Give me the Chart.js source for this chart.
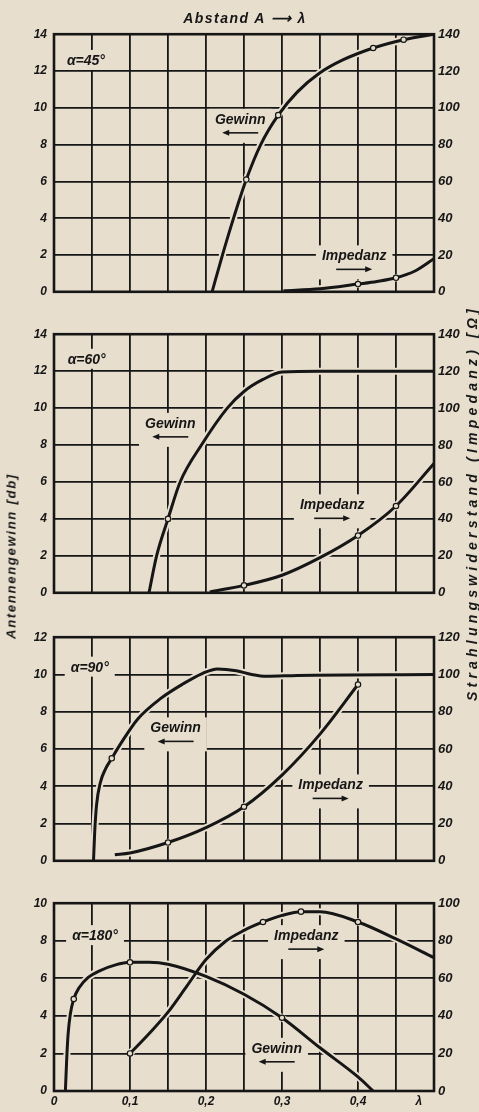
<!DOCTYPE html>
<html><head><meta charset="utf-8">
<script src="https://cdn.jsdelivr.net/npm/chart.js@4.4.1/dist/chart.umd.min.js"></script>
<style>
html,body{margin:0;padding:0;background:#e7dece;}
#wrap{position:relative;width:479px;height:1112px;overflow:hidden;background:#e7dece;}
canvas{position:absolute;left:0;}
.t{position:absolute;font-family:"Liberation Sans",Arial,sans-serif;font-weight:bold;font-style:italic;color:#161616;white-space:nowrap;line-height:1;}
.rot{transform:translate(-50%,-50%) rotate(-90deg);}
.ctr{transform:translate(-50%,-50%);}
</style></head><body>
<div id="wrap">
<canvas id="c1"></canvas><canvas id="c2"></canvas><canvas id="c3"></canvas><canvas id="c4"></canvas>
<div id="tTop" class="t ctr" style="left:245px;top:18px;font-size:14px;">Abstand A ⟶ λ</div>
<div id="tLeft" class="t rot" style="left:11px;top:556px;font-size:13px;">Antennengewinn [db]</div>
<div id="tRight" class="t rot" style="left:472px;top:503px;font-size:14px;">Strahlungswiderstand (Impedanz) [Ω]</div>
</div>
<script>
// ---------- data ----------
// x: Abstand A in λ ; Gewinn in dB (left axis) ; Impedanz in Ω (right axis)
const xTickVals = [0, 0.05, 0.1, 0.15, 0.2, 0.25, 0.3, 0.35, 0.4, 0.45, 0.48, 0.5];
const xTickText = ['0', '', '0,1', '', '0,2', '', '0,3', '', '0,4', '', 'λ', ''];

// α = 45°
const g45x = [0.208, 0.222, 0.237, 0.253, 0.272, 0.295, 0.32, 0.35, 0.38, 0.42, 0.46, 0.5];
const g45y = [0, 2.05, 4.1, 6.1, 8, 9.6, 10.85, 11.9, 12.6, 13.25, 13.7, 14];
const i45x = [0.302, 0.35, 0.4, 0.425, 0.45, 0.475, 0.5];
const i45y = [0.6, 1.6, 4.2, 5.6, 7.6, 11.3, 18];
const g45marks = [0.253, 0.295, 0.42, 0.46];
const i45marks = [0.4, 0.45];

// α = 60°
const g60x = [0.125, 0.135, 0.15, 0.166, 0.194, 0.228, 0.25, 0.275, 0.3, 0.35, 0.5];
const g60y = [0, 2, 4, 6, 8, 10, 10.9, 11.55, 11.95, 12, 12];
const i60x = [0.205, 0.25, 0.3, 0.35, 0.4, 0.45, 0.5];
const i60y = [0.5, 4, 9.5, 19, 31, 47, 70];
const g60marks = [0.15];
const i60marks = [0.25, 0.4, 0.45];

// α = 90°
const g90x = [0.052, 0.0535, 0.056, 0.061, 0.068, 0.076, 0.088, 0.11, 0.14, 0.17, 0.195, 0.215, 0.24, 0.26, 0.28, 0.32, 0.5];
const g90y = [0, 1.5, 3, 4.2, 4.95, 5.5, 6.3, 7.6, 8.7, 9.5, 10.05, 10.3, 10.2, 10, 9.9, 9.95, 10];
const i90x = [0.08, 0.1, 0.15, 0.2, 0.25, 0.3, 0.35, 0.4];
const i90y = [3.3, 4.2, 9.8, 17.8, 29, 46, 68, 94.6];
const g90marks = [0.076];
const i90marks = [0.15, 0.25, 0.4];

// α = 180°
const g180x = [0.015, 0.0165, 0.0185, 0.0215, 0.026, 0.033, 0.045, 0.06, 0.08, 0.1, 0.125, 0.15, 0.2, 0.25, 0.3, 0.35, 0.4, 0.42];
const g180y = [0, 1.5, 3, 4.1, 4.9, 5.5, 6.05, 6.4, 6.7, 6.85, 6.85, 6.75, 6.1, 5.15, 3.9, 2.3, 0.75, 0];
const i180x = [0.1, 0.125, 0.15, 0.175, 0.2, 0.225, 0.25, 0.275, 0.3, 0.325, 0.35, 0.4, 0.45, 0.5];
const i180y = [20, 30.5, 42, 56, 70, 79.5, 85.5, 90, 93.5, 95.5, 95.5, 90, 81, 71];
const g180marks = [0.026, 0.1, 0.3];
const i180marks = [0.1, 0.275, 0.325, 0.4];

// ---------- style / layout ----------
const INK = '#161616', PAPER = '#e7dece';
const PLOT_L = 54, PLOT_R = 434, PAD = 12, W = 479;
const FONT = '"Liberation Sans", Arial, sans-serif';
const LAMBDA_POS = 0.48;

const panels = [
  {id:'c1', top:32, bottom:294, yMax:14, rMax:140, gx:g45x, gy:g45y, ix:i45x, iy:i45y, gm:g45marks, im:i45marks,
   labels:[{text:'α=45°', x:0.042, y:12.6, arrow:0},
           {text:'Gewinn', x:0.245, y:9.4, arrow:-1},
           {text:'Impedanz', x:0.395, y:1.98, arrow:1}]},
  {id:'c2', top:332, bottom:595, yMax:14, rMax:140, gx:g60x, gy:g60y, ix:i60x, iy:i60y, gm:g60marks, im:i60marks,
   labels:[{text:'α=60°', x:0.043, y:12.67, arrow:0},
           {text:'Gewinn', x:0.153, y:9.2, arrow:-1},
           {text:'Impedanz', x:0.366, y:4.79, arrow:1}]},
  {id:'c3', top:635, bottom:863, yMax:12, rMax:120, gx:g90x, gy:g90y, ix:i90x, iy:i90y, gm:g90marks, im:i90marks,
   labels:[{text:'α=90°', x:0.047, y:10.42, arrow:0},
           {text:'Gewinn', x:0.16, y:7.16, arrow:-1},
           {text:'Impedanz', x:0.364, y:4.1, arrow:1}]},
  {id:'c4', top:901, bottom:1091, yMax:10, rMax:100, gx:g180x, gy:g180y, ix:i180x, iy:i180y, gm:g180marks, im:i180marks, last:true,
   labels:[{text:'α=180°', x:0.054, y:8.3, arrow:0},
           {text:'Impedanz', x:0.332, y:8.3, arrow:1},
           {text:'Gewinn', x:0.293, y:2.3, arrow:-1}]}
];

const pts = (xs, ys) => xs.map((x, i) => ({x, y: ys[i]}));

const annot = {
  id: 'annot',
  beforeDatasetsDraw(chart) {
    const p = chart.options.plugins.annot.panel;
    const ctx = chart.ctx, xs = chart.scales.x, ys = chart.scales.y;
    ctx.save();
    ctx.font = 'italic bold 14px ' + FONT;
    ctx.textAlign = 'center'; ctx.textBaseline = 'middle';
    p.labels.forEach(l => {
      const cx = xs.getPixelForValue(l.x), cy = ys.getPixelForValue(l.y);
      const tw = ctx.measureText(l.text).width;
      ctx.fillStyle = PAPER;
      const h = l.arrow ? 34 : 20;
      ctx.fillRect(cx - tw/2 - 6, cy - 10, tw + 12, h);
      ctx.fillStyle = INK;
      ctx.fillText(l.text, cx, cy + 1);
      if (l.arrow) {
        const ay = cy + 14, half = 18, d = l.arrow;
        ctx.strokeStyle = INK; ctx.lineWidth = 1.6;
        ctx.beginPath(); ctx.moveTo(cx - half*d, ay); ctx.lineTo(cx + (half-5)*d, ay); ctx.stroke();
        ctx.beginPath();
        ctx.moveTo(cx + half*d, ay); ctx.lineTo(cx + (half-7)*d, ay - 3); ctx.lineTo(cx + (half-7)*d, ay + 3);
        ctx.closePath(); ctx.fill();
      }
    });
    ctx.restore();
  },
  afterDatasetsDraw(chart) {
    const a = chart.chartArea, ctx = chart.ctx;
    ctx.save();
    ctx.strokeStyle = INK; ctx.lineWidth = 2.6;
    ctx.strokeRect(a.left, a.top, a.right - a.left, a.bottom - a.top);
    ctx.restore();
  }
};

function series(xs, ys, marks, axis, order) {
  const data = pts(xs, ys);
  return [
    {data, yAxisID: axis, borderColor: INK, borderWidth: 3, cubicInterpolationMode: 'monotone',
     pointRadius: c => marks.includes(c.raw.x) ? 2.7 : 0, pointBackgroundColor: PAPER,
     pointBorderColor: INK, pointBorderWidth: 1.2, order: order},
    {data, yAxisID: axis, borderColor: PAPER, borderWidth: 7, cubicInterpolationMode: 'monotone',
     pointRadius: 0, order: order + 10}
  ];
}

panels.forEach(p => {
  const cv = document.getElementById(p.id);
  const extra = p.last ? 22 : PAD;
  const H = p.bottom - p.top + PAD + extra;
  cv.width = W; cv.height = H;
  cv.style.top = (p.top - PAD) + 'px';
  cv.style.width = W + 'px'; cv.style.height = H + 'px';
  const tickFont = {family: FONT, size: 12, style: 'italic', weight: 'bold'};
  const rFont = {family: FONT, size: 13, style: 'italic', weight: 'bold'};
  new Chart(cv, {
    type: 'line',
    data: {datasets: [
      ...series(p.gx, p.gy, p.gm, 'y', 1),
      ...series(p.ix, p.iy, p.im, 'y2', 2)
    ]},
    options: {
      responsive: false, animation: false, maintainAspectRatio: false,
      layout: {padding: {top: PAD, left: 0, right: 0, bottom: 0}},
      plugins: {legend: {display: false}, tooltip: {enabled: false}, annot: {panel: p}},
      scales: {
        x: {type: 'linear', min: 0, max: 0.5,
            afterBuildTicks: s => { s.ticks = xTickVals.map(v => ({value: v})); },
            ticks: {display: !!p.last, autoSkip: false, maxRotation: 0, padding: 3, color: INK, font: tickFont,
                    callback: (v, i) => xTickText[i]},
            grid: {color: c => (c.tick && c.tick.value === LAMBDA_POS) ? 'rgba(0,0,0,0)' : INK, lineWidth: 1.8, drawTicks: false},
            border: {display: false},
            afterFit: s => { s.height = extra; }},
        y: {position: 'left', min: 0, max: p.yMax,
            ticks: {stepSize: 2, padding: 7, color: INK, font: tickFont},
            grid: {color: INK, lineWidth: 1.8, drawTicks: false},
            border: {display: false},
            afterFit: s => { s.width = PLOT_L; }},
        y2: {position: 'right', min: 0, max: p.rMax,
            ticks: {stepSize: 20, padding: 4, color: INK, font: rFont},
            grid: {display: false, drawTicks: false},
            border: {display: false},
            afterFit: s => { s.width = W - PLOT_R; }}
      }
    },
    plugins: [annot]
  });
});

// stretch the axis titles to the length they have in the original
function fit(id, target) {
  const el = document.getElementById(id);
  el.style.letterSpacing = '0px';
  const w = el.offsetWidth, n = el.textContent.length;
  el.style.letterSpacing = Math.max(0, (target - w) / n) + 'px';
}
fit('tTop', 124); fit('tLeft', 166); fit('tRight', 396);
</script>
</body></html>
